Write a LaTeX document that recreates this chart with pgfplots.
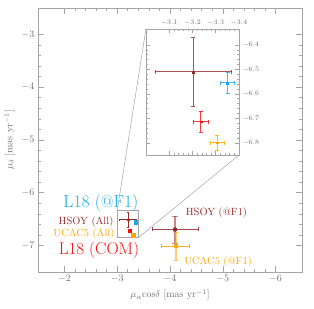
\documentclass[border=0pt]{standalone}
\usepackage{pgfplots}
\pgfplotsset{compat=1.18}
\definecolor{hsoy}{RGB}{150,40,40}
\definecolor{lblue}{RGB}{20,170,240}
\definecolor{lred}{RGB}{250,10,10}
\definecolor{ucac}{RGB}{255,165,0}
\definecolor{axgray}{RGB}{165,165,165}
\definecolor{labgray}{RGB}{110,110,110}
\pgfplotsset{
  eb/.style={color=#1, only marks, mark=square*, mark size=0.9bp,
    mark options={draw=#1, fill=#1},
    error bars/.cd, x dir=both, x explicit, y dir=both, y explicit,
    error bar style={line width=0.7bp, draw=#1, opacity=0.8},
    error mark options={line width=0.7bp, mark size=2bp, draw=#1, rotate=90}},
  ebs/.style={color=#1, only marks, mark=square*, mark size=0.9bp,
    mark options={draw=#1, fill=#1},
    error bars/.cd, x dir=both, x explicit, y dir=both, y explicit,
    error bar style={line width=0.6bp, draw=#1},
    error mark options={line width=0.6bp, mark size=1.2bp, draw=#1, rotate=90}},
  ebv/.style={color=#1, only marks, mark=none,
    error bars/.cd, y dir=both, y explicit,
    error bar style={line width=1.8bp, draw=#1, opacity=0.55},
    error mark options={line width=0.7bp, mark size=3bp, draw=#1, rotate=90}},
  ebh/.style={color=#1, only marks, mark=square*, mark size=1bp,
    mark options={draw=#1, fill=#1},
    error bars/.cd, x dir=both, x explicit,
    error bar style={line width=0.7bp, draw=#1, opacity=0.85},
    error mark options={line width=0.7bp, mark size=2bp, draw=#1, rotate=90}},
}
\begin{document}
\begin{tikzpicture}
\begin{axis}[
  name=main, scale only axis, width=264bp, height=264bp,
  xmin=-6.5, xmax=-1.5, ymin=-7.5, ymax=-2.5, x dir=reverse,
  xtick={-6,-5,-4,-3,-2}, ytick={-7,-6,-5,-4,-3},
  minor tick num=4, tick align=inside,
  axis line style={axgray, line width=0.7bp},
  every tick/.style={axgray, line width=0.6bp},
  major tick length=6bp, minor tick length=3bp,
  ticklabel style={text=labgray, font=\normalsize},
  xlabel={$\mu_\alpha\mathrm{cos}\delta$ [mas yr$^{-1}$]},
  ylabel={$\mu_\delta$ [mas yr$^{-1}$]},
  label style={text=labgray, font=\normalsize},
  clip=false,
]
\coordinate (mSW) at (rel axis cs:0,0);
\coordinate (mNE) at (rel axis cs:1,1);
\coordinate (insetNW) at (axis cs:-3.545,-2.898);
\coordinate (bTL) at (axis cs:-3.0,-6.335);
\coordinate (bBR) at (axis cs:-3.4,-6.85);
\draw[axgray, line width=0.6bp] (axis cs:-3.0,-6.85) rectangle (axis cs:-3.4,-6.335);
% zoomed points shown in main panel
\addplot[ebs=hsoy] coordinates {(-3.204,-6.51) +- (0.165,0.14)};
\addplot[lblue, only marks, mark=square*, mark size=1.6bp] coordinates {(-3.351,-6.555)};
\addplot[lred, only marks, mark=square*, mark size=1.4bp] coordinates {(-3.236,-6.714)};
\addplot[ucac, only marks, mark=square*, mark size=1.8bp] coordinates {(-3.307,-6.80)};
% HSOY @F1
\addplot[ebv=hsoy] coordinates {(-4.095,-6.695) +- (0,0.255)};
\addplot[ebh=hsoy] coordinates {(-4.095,-6.695) +- (0.435,0)};
% UCAC5 @F1
\addplot[ebv=ucac] coordinates {(-4.11,-7.005) +- (0,0.265)};
\addplot[ebh=ucac] coordinates {(-4.11,-7.005) +- (0.265,0)};
% labels
\node[text=lblue, font=\fontsize{17.5}{17}\selectfont] at (axis cs:-2.69,-6.20) {L18 (@F1)};
\node[text=hsoy, font=\fontsize{10.5}{11}\selectfont] at (axis cs:-2.41,-6.55) {HSOY (All)};
\node[text=ucac, font=\fontsize{10.5}{11}\selectfont] at (axis cs:-2.37,-6.78) {UCAC5 (All)};
\node[text=lred, font=\fontsize{17}{17}\selectfont] at (axis cs:-2.655,-7.08) {L18 (COM)};
\node[text=hsoy, font=\fontsize{10.5}{11}\selectfont] at (axis cs:-4.88,-6.38) {HSOY (@F1)};
\node[text=ucac, font=\fontsize{10.5}{11}\selectfont] at (axis cs:-4.91,-7.31) {UCAC5 (@F1)};
\end{axis}
\begin{axis}[
  name=inset, at={(insetNW)}, anchor=north west,
  scale only axis, width=93bp, height=126bp,
  xmin=-3.4, xmax=-3.0, ymin=-6.85, ymax=-6.335, x dir=reverse,
  xtick={-3.4,-3.3,-3.2,-3.1}, ytick={-6.8,-6.7,-6.6,-6.5,-6.4},
  xticklabel pos=top, yticklabel pos=right,
  minor tick num=4, tick align=inside,
  axis line style={axgray, line width=0.7bp},
  every tick/.style={axgray, line width=0.5bp},
  major tick length=4bp, minor tick length=2bp,
  ticklabel style={text=labgray, font=\fontsize{7.5}{8}\selectfont,
    /pgf/number format/.cd, fixed, precision=1, fixed zerofill},
  axis background/.style={fill=white},
]
\coordinate (iNW) at (rel axis cs:0,1);
\coordinate (iSE) at (rel axis cs:1,0);
\addplot[eb=hsoy] coordinates {(-3.204,-6.51) +- (0.165,0.14)};
\addplot[eb=lblue] coordinates {(-3.351,-6.555) +- (0.03,0.043)};
\addplot[eb=lred] coordinates {(-3.236,-6.714) +- (0.033,0.043)};
\addplot[eb=ucac] coordinates {(-3.307,-6.80) +- (0.03,0.03)};
\end{axis}
\draw[axgray, line width=0.5bp] (bTL) -- (iNW);
\draw[axgray, line width=0.5bp] (bBR) -- (iSE);
\pgfresetboundingbox
\path ([shift={(-38bp,-37bp)}]mSW) rectangle ([shift={(12bp,8bp)}]mNE);
\end{tikzpicture}
\end{document}
